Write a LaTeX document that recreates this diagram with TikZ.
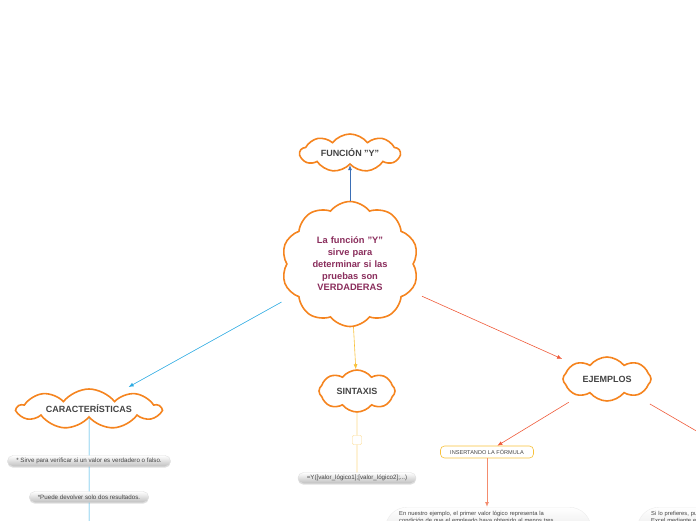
\documentclass[tikz,border=0pt]{standalone}
\usepackage{fontspec}
\setmainfont{Liberation Sans}
\usetikzlibrary{arrows.meta,positioning,shapes.symbols,shapes.misc,shadows}

\definecolor{cloudorange}{HTML}{F5841F}
\definecolor{textgray}{HTML}{444444}
\definecolor{maintext}{HTML}{8A2D5C}
\definecolor{topblue}{HTML}{3B6FB6}
\definecolor{skyblue}{HTML}{2BAAE2}
\definecolor{sunyellow}{HTML}{F8C13A}
\definecolor{paleyellow}{HTML}{FCD98A}
\definecolor{redorange}{HTML}{EF5B3A}
\definecolor{salmon}{HTML}{F48C6E}

\begin{document}
\begin{tikzpicture}[x=1pt,y=-1pt,
    idea/.style={cloud, cloud puffs=9, cloud puff arc=105, cloud ignores aspect, draw=cloudorange,
      line width=1.6pt, fill=white, text=textgray, inner sep=0pt,
      font=\bfseries\fontsize{9}{11}\selectfont},
    pill/.style={rounded rectangle, top color=white, bottom color=gray!50,
      draw=gray!25, text=textgray, minimum height=11pt, inner xsep=8pt, inner ysep=1pt,
      font=\fontsize{6.2}{7}\selectfont,
      drop shadow={opacity=.25, shadow xshift=0pt, shadow yshift=-1.2pt}},
    bigpill/.style={rounded corners=22pt, top color=white, bottom color=gray!35,
      draw=gray!15, text=textgray, anchor=north west, align=left,
      font=\fontsize{5.8}{7.4}\selectfont, inner xsep=14pt, inner ysep=4pt, text depth=40pt},
    link/.style={-{Latex[length=5pt,width=4pt]}, line width=0.6pt}]

    % page
    \useasboundingbox (0,0) rectangle (696,520);
    \clip (0,0) rectangle (696,520);

    % clouds
    \node[idea, cloud puffs=10, minimum width=137pt, minimum height=125pt, text width=88pt, align=center,
      text=maintext, font=\bfseries\fontsize{9.3}{11.7}\selectfont] (main) at (350,264)
      {La función "Y"\\ sirve para\\ determinar si las\\ pruebas son\\ VERDADERAS};
    \node[idea, minimum width=100pt, minimum height=38pt] (func) at (350,153) {FUNCIÓN "Y"};
    \node[idea, minimum width=143pt, minimum height=40pt] (carac) at (89,409) {CARACTERÍSTICAS};
    \node[idea, cloud puffs=8, minimum width=76pt, minimum height=42pt] (sint) at (357,391) {SINTAXIS};
    \node[idea, cloud puffs=8, minimum width=88pt, minimum height=44pt] (ejem) at (607,379) {EJEMPLOS};

    % characteristics
    \node[pill] (verif) at (89,461) {* Sirve para verificar si un valor es verdadero o falso.};
    \node[pill] (result) at (89,497) {*Puede devolver solo dos resultados.};
    \coordinate (caracend) at (89,530);

    % syntax
    \node[draw=paleyellow, fill=white, rounded corners=1pt, minimum size=9pt, inner sep=0pt] (box) at (357,440) {};
    \node[pill] (formula) at (357,478) {=Y([valor\_lógico1];[valor\_lógico2];...)};

    % examples
    \node[draw=sunyellow, fill=white, rounded corners=4pt, line width=0.6pt, text=textgray,
      font=\fontsize{5.6}{6}\selectfont, minimum width=93pt, minimum height=12pt] (insert) at (487,452)
      {INSERTANDO LA FÓRMULA};
    \node[bigpill, text width=178pt] (ex1) at (385,507)
      {En nuestro ejemplo, el primer valor lógico representa la\\
       condición de que el empleado haya obtenido al menos tres};
    \node[bigpill, text width=120pt] (ex2) at (637,507)
      {Si lo prefieres, puedes insertar la\\ Excel mediante el asistente};
    \coordinate (exright) at (760,468);

    % connectors
    \draw[link, topblue] (main) -- (func);
    \draw[link, skyblue, shorten <=14pt, shorten >=20pt] (main) -- (carac);
    \draw[link, sunyellow] (main) -- (sint);
    \draw[link, redorange, shorten <=12pt, shorten >=12pt] (main) -- (ejem);
    \draw[skyblue, line width=0.5pt] (carac) -- (verif) -- (result) -- (caracend);
    \draw[paleyellow, line width=0.6pt] (sint) -- (box) -- (formula);
    \draw[link, redorange, shorten <=12pt] (ejem) -- (insert);
    \draw[redorange, line width=0.6pt, shorten <=16pt] (ejem) -- (exright);
    \draw[link, salmon, line width=1pt] (insert) -- (insert |- ex1.north);
  \end{tikzpicture}
\end{document}
